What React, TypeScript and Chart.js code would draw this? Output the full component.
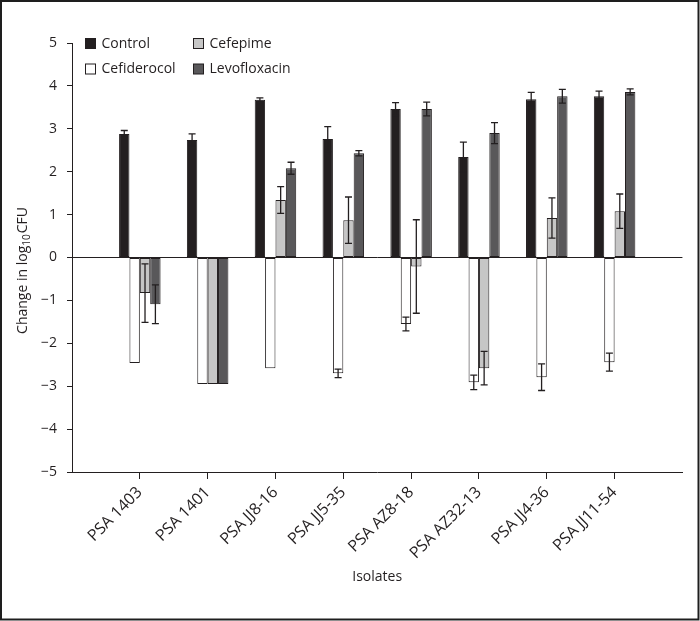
import React, { useEffect, useRef } from 'react';
import { Chart, registerables } from 'chart.js';

Chart.register(...registerables);

const isolates = ['PSA 1403', 'PSA 1401', 'PSA JJ8-16', 'PSA JJ5-35', 'PSA AZ8-18', 'PSA AZ32-13', 'PSA JJ4-36', 'PSA JJ11-54'];
const seriesNames = ['Control', 'Cefiderocol', 'Cefepime', 'Levofloxacin'];
const control = [2.88, 2.74, 3.68, 2.76, 3.46, 2.34, 3.69, 3.76];
const controlErr = [0.08, 0.14, 0.04, 0.29, 0.15, 0.35, 0.16, 0.12];
const cefiderocol = [-2.46, -2.95, -2.58, -2.7, -1.55, -2.91, -2.79, -2.44];
const cefiderocolErr = [0, 0, 0, 0.1, 0.16, 0.17, 0.31, 0.21];
const cefepime = [-0.83, -2.95, 1.34, 0.87, -0.21, -2.58, 0.92, 1.08];
const cefepimeErr = [0.68, 0, 0.31, 0.54, 1.09, 0.39, 0.47, 0.4];
const levofloxacin = [-1.09, -2.95, 2.08, 2.43, 3.46, 2.9, 3.76, 3.86];
const levofloxacinErr = [0.45, 0, 0.14, 0.06, 0.16, 0.245, 0.16, 0.07];
const yMin = -5;
const yMax = 5;
const yStep = 1;

const FONT = '"Open Sans", "DejaVu Sans", sans-serif';
const INK = '#231f20';
const fills = ['#231f20', '#ffffff', '#c6c6c6', '#59585a'];

const pad = (arr: (number | null)[], fill: number | null) => [fill, ...arr, fill];

const errorBarPlugin = {
  id: 'errorBars',
  afterDatasetsDraw(chart: any) {
    const ctx = chart.ctx;
    const yScale = chart.scales.y;
    ctx.save();
    ctx.strokeStyle = INK;
    ctx.lineWidth = 1.3;
    chart.data.datasets.forEach((ds: any, i: number) => {
      const meta = chart.getDatasetMeta(i);
      meta.data.forEach((el: any, j: number) => {
        const v = ds.data[j];
        const e = ds.errors[j];
        if (v == null || !e) return;
        const x = el.x;
        const y1 = yScale.getPixelForValue(v + e);
        const y2 = yScale.getPixelForValue(v - e);
        const c = 3.5;
        ctx.beginPath();
        ctx.moveTo(x, y1);
        ctx.lineTo(x, y2);
        ctx.moveTo(x - c, y1);
        ctx.lineTo(x + c, y1);
        ctx.moveTo(x - c, y2);
        ctx.lineTo(x + c, y2);
        ctx.stroke();
      });
    });
    ctx.restore();
  },
};

const decorPlugin = {
  id: 'decor',
  afterDraw(chart: any) {
    const ctx = chart.ctx;
    ctx.save();
    // legend (two columns)
    const pos = [
      [85.5, 38.5],
      [85.5, 64],
      [193.5, 38.5],
      [193.5, 64],
    ];
    ctx.font = `14px ${FONT}`;
    ctx.textBaseline = 'middle';
    ctx.textAlign = 'left';
    chart.data.datasets.forEach((ds: any, i: number) => {
      const [x, y] = pos[i];
      ctx.fillStyle = ds.backgroundColor;
      ctx.fillRect(x, y, 10, 10);
      ctx.strokeStyle = INK;
      ctx.lineWidth = 1;
      ctx.strokeRect(x, y, 10, 10);
      ctx.fillStyle = INK;
      ctx.fillText(ds.label, x + 16, y + 5.5);
    });
    // y-axis title with subscript
    const p1 = 'Change in log';
    const sub = '10';
    const p2 = 'CFU';
    ctx.font = `14px ${FONT}`;
    const w1 = ctx.measureText(p1).width;
    const w3 = ctx.measureText(p2).width;
    ctx.font = `10px ${FONT}`;
    const w2 = ctx.measureText(sub).width;
    const total = w1 + w2 + 1 + w3;
    ctx.translate(21.5, 270.5);
    ctx.rotate(-Math.PI / 2);
    ctx.fillStyle = INK;
    ctx.textBaseline = 'alphabetic';
    let x0 = -total / 2;
    ctx.font = `14px ${FONT}`;
    ctx.fillText(p1, x0, 5);
    x0 += w1;
    ctx.font = `10px ${FONT}`;
    ctx.fillText(sub, x0, 8);
    x0 += w2 + 1;
    ctx.font = `14px ${FONT}`;
    ctx.fillText(p2, x0, 5);
    ctx.restore();
    // frame
    ctx.save();
    ctx.strokeStyle = '#1e1e1e';
    ctx.lineWidth = 2;
    ctx.strokeRect(1, 1, 697.5, 618.5);
    ctx.restore();
  },
};

export default function App() {
  const ref = useRef<HTMLCanvasElement>(null);
  useEffect(() => {
    document.body.style.margin = '0';
    const canvas = ref.current;
    if (!canvas) return;
    const values = [control, cefiderocol, cefepime, levofloxacin];
    const errs = [controlErr, cefiderocolErr, cefepimeErr, levofloxacinErr];
    const chart = new Chart(canvas, {
      type: 'bar',
      data: {
        labels: ['', ...isolates, ''],
        datasets: seriesNames.map((name, i) => ({
          label: name,
          data: pad(values[i], null),
          errors: pad(errs[i], 0),
          backgroundColor: fills[i],
          borderColor: INK,
          borderWidth: 1,
          borderSkipped: false,
          categoryPercentage: 0.612,
          barPercentage: 1,
        })) as any,
      },
      options: {
        responsive: false,
        animation: false,
        events: [],
        layout: { padding: { top: 43, right: 14, bottom: 0, left: 0 } },
        plugins: {
          legend: { display: false },
          tooltip: { enabled: false },
        },
        scales: {
          x: {
            type: 'category',
            offset: false,
            grid: {
              offset: false,
              drawOnChartArea: false,
              tickLength: 7,
              tickColor: (c: any) => (c.index === 0 || c.index === 9 ? 'transparent' : INK),
            },
            border: { display: true, color: INK, width: 1 },
            ticks: {
              autoSkip: false,
              maxRotation: 45,
              minRotation: 45,
              padding: 4,
              color: INK,
              font: { family: FONT, size: 16 },
            },
            title: {
              display: true,
              text: 'Isolates',
              color: INK,
              font: { family: FONT, size: 14 },
              padding: { top: 4, bottom: 36 },
            },
            afterFit: (s: any) => {
              s.height = 149;
            },
          },
          y: {
            min: yMin,
            max: yMax,
            grid: {
              color: (c: any) => (c.tick && c.tick.value === 0 ? INK : 'transparent'),
              tickColor: INK,
              tickLength: 5,
              lineWidth: 1,
            },
            border: { display: true, color: INK, width: 1 },
            ticks: {
              stepSize: yStep,
              padding: 10,
              color: INK,
              font: { family: FONT, size: 14 },
              callback: (v: any) => (v < 0 ? '\u2212' + Math.abs(v) : String(v)),
            },
            afterFit: (s: any) => {
              s.width = 72;
            },
          },
        },
      },
      plugins: [errorBarPlugin, decorPlugin],
    });
    return () => chart.destroy();
  }, []);
  return (
    <canvas ref={ref} width={700} height={621} style={{ display: 'block', width: 700, height: 621 }} />
  );
}
